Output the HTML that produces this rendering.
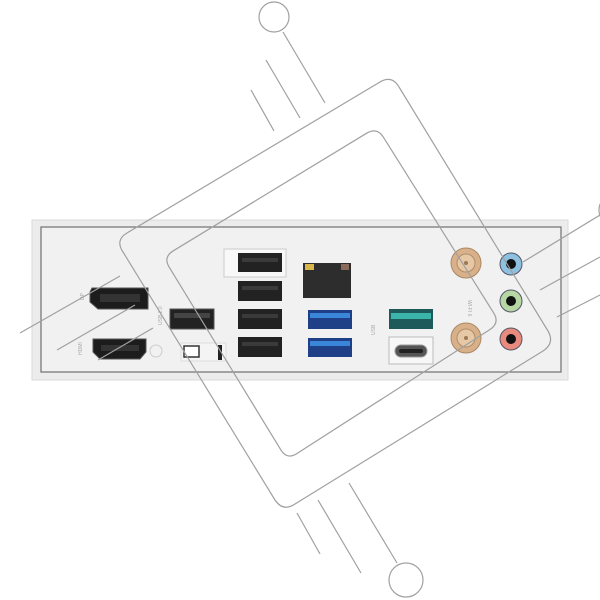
<!DOCTYPE html>
<html><head><style>body{margin:0;background:#fff;overflow:hidden}svg{display:block}</style></head><body>
<svg width="600" height="600" viewBox="0 0 600 600" xmlns="http://www.w3.org/2000/svg" font-family="Liberation Sans, sans-serif">
<rect width="600" height="600" fill="#fff"/>
<!-- plate -->
<rect x="32" y="220" width="536" height="160" fill="#ececed" stroke="#dadadc"/>
<rect x="41" y="227" width="520" height="145" fill="#f1f1f2" stroke="#6f7072" stroke-width="1.2"/>
<!-- DP -->
<path d="M92 288 H148 V309 H98 L90 302 V292Z" fill="#1c1c1c" stroke="#555"/>
<rect x="100" y="294" width="40" height="8" fill="#333"/>
<text x="84" y="300" font-size="5" fill="#aaa" transform="rotate(-90 84 300)">DP</text>
<!-- HDMI -->
<path d="M93 339 H146 V352 L140 359 H100 L93 352Z" fill="#1c1c1c" stroke="#555"/>
<rect x="101" y="345" width="38" height="6" fill="#333"/>
<text x="82" y="355" font-size="5" fill="#aaa" transform="rotate(-90 82 355)">HDMI</text>
<circle cx="156" cy="351" r="6" fill="none" stroke="#ccc"/>
<!-- USB2 -->
<rect x="170" y="309" width="44" height="20" fill="#222" stroke="#555"/>
<rect x="174" y="313" width="36" height="5" fill="#444"/>
<text x="162" y="325" font-size="5" fill="#aaa" transform="rotate(-90 162 325)">USB 2.0</text>
<rect x="181" y="343" width="45" height="18" fill="#f4f4f4" stroke="#ddd"/>
<rect x="184" y="346" width="15" height="11" fill="#fff" stroke="#333" stroke-width="1.5"/>
<rect x="218" y="345" width="4" height="15" fill="#222"/>
<!-- black USB column -->
<rect x="224" y="249" width="62" height="28" fill="#f8f8f8" stroke="#ccc"/>
<rect x="238" y="253" width="44" height="19" fill="#222"/>
<rect x="238" y="281" width="44" height="20" fill="#222"/>
<rect x="238" y="309" width="44" height="20" fill="#222"/>
<rect x="238" y="337" width="44" height="20" fill="#222"/>
<g fill="#3a3a3a"><rect x="242" y="258" width="36" height="4"/><rect x="242" y="286" width="36" height="4"/><rect x="242" y="314" width="36" height="4"/><rect x="242" y="342" width="36" height="4"/></g>
<!-- LAN -->
<rect x="303" y="263" width="48" height="35" fill="#2d2d2d"/>
<rect x="305" y="264" width="9" height="6" fill="#d9b64a"/>
<rect x="341" y="264" width="8" height="6" fill="#8a6a5a"/>
<!-- blue USB -->
<rect x="308" y="310" width="44" height="19" fill="#1f3f86"/>
<rect x="310" y="313" width="40" height="5" fill="#3a86d8"/>
<rect x="308" y="338" width="44" height="19" fill="#1f3f86"/>
<rect x="310" y="341" width="40" height="5" fill="#3a86d8"/>
<!-- teal USB -->
<rect x="389" y="309" width="44" height="20" fill="#1e5a5a"/>
<rect x="391" y="313" width="40" height="6" fill="#3bb5aa"/>
<text x="375" y="335" font-size="5" fill="#aaa" transform="rotate(-90 375 335)">USB</text>
<!-- type-c -->
<rect x="389" y="337" width="44" height="27" fill="#f7f7f7" stroke="#bbb"/>
<rect x="395" y="345" width="32" height="12" rx="6" fill="#555" stroke="#999"/>
<rect x="399" y="349" width="24" height="4" rx="2" fill="#222"/>
<!-- antennas -->
<circle cx="466" cy="263" r="15" fill="#d8b08a" stroke="#a98863"/>
<circle cx="466" cy="263" r="9" fill="#e6c8a6" stroke="#b08d68"/>
<circle cx="466" cy="263" r="2" fill="#9b7a55"/>
<circle cx="466" cy="338" r="15" fill="#d8b08a" stroke="#a98863"/>
<circle cx="466" cy="338" r="9" fill="#e6c8a6" stroke="#b08d68"/>
<circle cx="466" cy="338" r="2" fill="#9b7a55"/>
<text x="468" y="300" font-size="5" fill="#aaa" transform="rotate(90 468 300)">WI-FI 6</text>
<!-- audio -->
<circle cx="511" cy="264" r="11" fill="#8ec0e0" stroke="#556"/>
<circle cx="511" cy="264" r="5" fill="#111"/>
<circle cx="511" cy="301" r="11" fill="#b6d6a4" stroke="#556"/>
<circle cx="511" cy="301" r="5" fill="#111"/>
<circle cx="511" cy="339" r="11" fill="#e98a7e" stroke="#556"/>
<circle cx="511" cy="339" r="5" fill="#111"/>
<!-- watermark -->
<g fill="none" stroke="#a0a0a0" stroke-width="1.2" stroke-linejoin="round">
<circle cx="274" cy="17" r="15"/>
<path d="M283 32 L325 103 M266 60 L300 118 M251 90 L274 131"/>
<circle cx="406" cy="580" r="17"/>
<path d="M349 483 L397 563 M318 500 L361 573 M297 513 L320 554"/>
<path d="M399 87 L548 331 Q555 343 543 351 L295 504 Q283 512 275 500 L123 252 Q115 240 127 233 L380 82 Q392 75 399 87 Z"/>
<path d="M383.4 137.2 L493.6 312.8 Q500 323 490 329.5 L297 453.5 Q287 460 280.8 449.8 L169.2 267.2 Q163 257 173.3 250.8 L366.7 133.2 Q377 127 383.4 137.2 Z"/>
<path d="M20 333 L120 276 M57 350 L135 305 M98 360 L153 328"/>
<path d="M523 262 L600 215 M540 290 L600 257 M557 317 L600 295"/>
<circle cx="614" cy="210" r="15"/>
</g>
</svg>
</body></html>
